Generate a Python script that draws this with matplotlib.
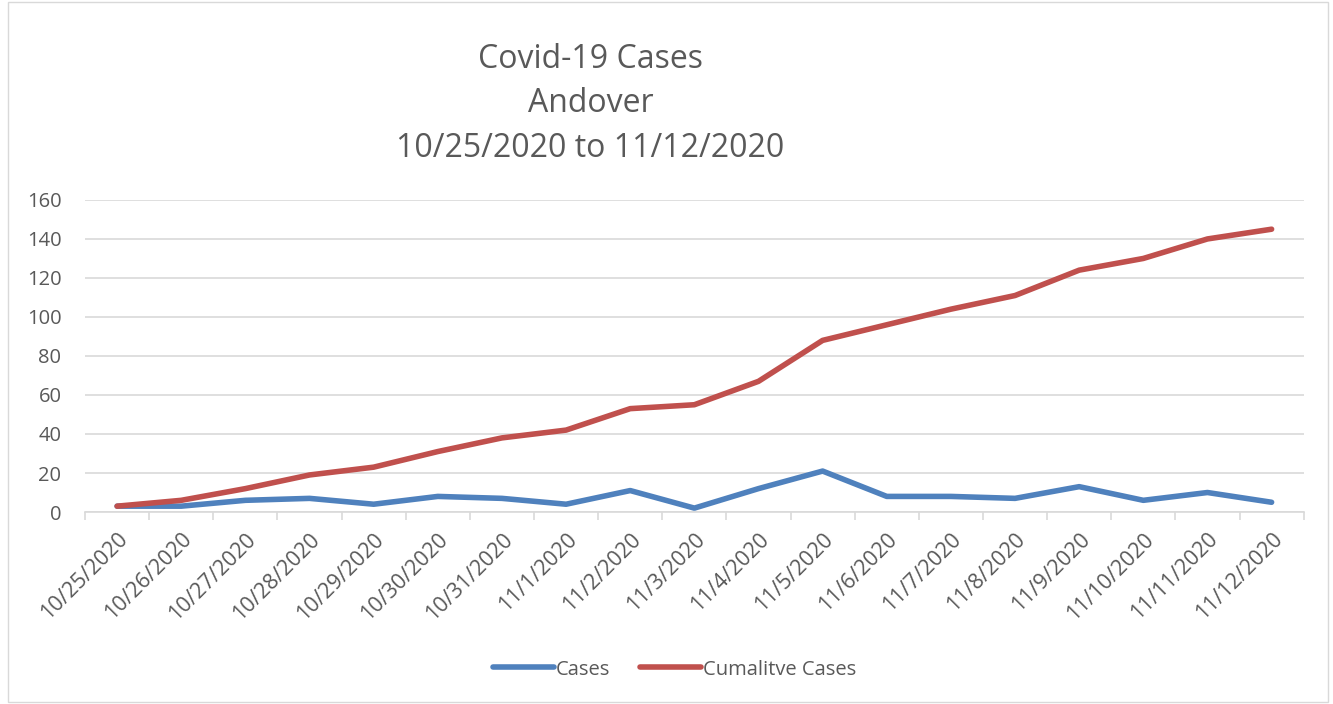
import matplotlib
matplotlib.use("Agg")
import matplotlib.pyplot as plt
from matplotlib.patches import Rectangle

plt.rcParams['font.family'] = ['Open Sans', 'DejaVu Sans']

dates = ["10/25/2020", "10/26/2020", "10/27/2020", "10/28/2020", "10/29/2020",
         "10/30/2020", "10/31/2020", "11/1/2020", "11/2/2020", "11/3/2020",
         "11/4/2020", "11/5/2020", "11/6/2020", "11/7/2020", "11/8/2020",
         "11/9/2020", "11/10/2020", "11/11/2020", "11/12/2020"]
cases = [3, 3, 6, 7, 4, 8, 7, 4, 11, 2, 12, 21, 8, 8, 7, 13, 6, 10, 5]
cumulative = [3, 6, 12, 19, 23, 31, 38, 42, 53, 55, 67, 88, 96, 104, 111, 124, 130, 140, 145]

text_col = "#595959"
grid_col = "#d9d9d9"

fig = plt.figure(figsize=(13.33, 7.04), dpi=100)
fig.patches.append(Rectangle((0.006, 0.003), 0.99, 0.994, transform=fig.transFigure,
                             fill=False, edgecolor="#d9d9d9", linewidth=1))
ax = fig.add_axes([0.0638, 0.2727, 0.9142, 0.4433])

x = list(range(len(dates)))
ax.plot(x, cases, color="#4f81bd", linewidth=4, solid_capstyle="round", label="Cases")
ax.plot(x, cumulative, color="#c0504d", linewidth=4, solid_capstyle="round", label="Cumalitve Cases")

ax.set_xlim(-0.5, len(dates) - 0.5)
ax.set_ylim(0, 160)
ax.set_yticks(range(0, 161, 20))
ax.yaxis.grid(True, color=grid_col, linewidth=1.2)
ax.set_axisbelow(True)
for s in ["top", "right", "left"]:
    ax.spines[s].set_visible(False)
ax.spines["bottom"].set_color(grid_col)
ax.spines["bottom"].set_linewidth(1.2)
ax.tick_params(axis="y", length=0, labelsize=14.5, labelcolor=text_col, pad=17)

ax.set_xticks([i - 0.5 for i in range(len(dates) + 1)], minor=False)
ax.set_xticklabels([])
ax.tick_params(axis="x", which="major", length=6, color=grid_col, width=1.2)
ax.set_xticks(x, minor=True)
ax.set_xticklabels(dates, minor=True, rotation=45, ha="right", rotation_mode="anchor")
ax.tick_params(axis="x", which="minor", length=0, labelsize=15.5, labelcolor=text_col, pad=12)

fig.text(0.443, 0.915, "Covid-19 Cases", ha="center", va="center", fontsize=23, color=text_col)
fig.text(0.443, 0.853, "Andover", ha="center", va="center", fontsize=23, color=text_col)
fig.text(0.443, 0.789, "10/25/2020 to 11/12/2020", ha="center", va="center", fontsize=23, color=text_col)

fig.legend(loc="center", bbox_to_anchor=(0.506, 0.049), ncol=2, frameon=False,
           fontsize=14.5, labelcolor=text_col, handlelength=3, handletextpad=0.1,
           columnspacing=1.5)

fig.savefig("out.png", dpi=100)
